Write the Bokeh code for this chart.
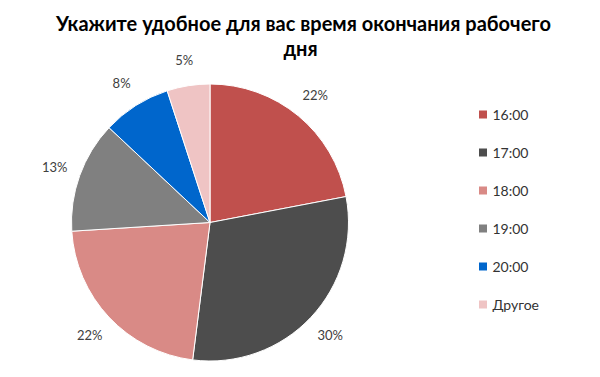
import math
from bokeh.plotting import figure
from bokeh.models import ColumnDataSource, Range1d
from bokeh.core.properties import value
from bokeh.embed import file_html
from bokeh.resources import INLINE

title_lines = ["Укажите удобное для вас время окончания рабочего", "дня"]
categories = ["16:00", "17:00", "18:00", "19:00", "20:00", "Другое"]
shares = [22, 30, 22, 13, 8, 5]
colors = ["#C0504D", "#4D4D4D", "#D98A86", "#808080", "#0066CC", "#EFC4C4"]

W, H = 584, 361
p = figure(width=W, height=H, output_backend="svg", toolbar_location=None,
           x_range=Range1d(0, W), y_range=Range1d(377 - H, 377),
           min_border=0)
p.axis.visible = False
p.grid.visible = False
p.outline_line_color = None
p.background_fill_color = "white"

def Y(img_y):
    return 377 - img_y

cx, cy, r = 209.5, Y(222), 138.5
total = float(sum(shares))
starts, ends, lx, ly, labels = [], [], [], [], []
cum = 0.0
for s in shares:
    a0 = math.pi / 2 - cum / total * 2 * math.pi
    cum += s
    a1 = math.pi / 2 - cum / total * 2 * math.pi
    starts.append(a0)
    ends.append(a1)
    mid = (a0 + a1) / 2
    lr = 165
    lx.append(cx + lr * math.cos(mid))
    ly.append(cy + lr * math.sin(mid))
    labels.append(f"{s}%")

src = ColumnDataSource(dict(start=starts, end=ends, color=colors, lx=lx, ly=ly, label=labels))
p.wedge(x=cx, y=cy, radius=r, start_angle="start", end_angle="end", direction="clock",
        fill_color="color", line_color="white", line_width=1, source=src)
p.text(x="lx", y="ly", text="label", source=src, text_align="center", text_baseline="middle",
       text_font=value("Lato"), text_font_size="13px", text_color="#404040")

# title
p.text(x=[303, 300], y=[Y(22), Y(47)], text=title_lines, text_align="center", text_baseline="middle",
       text_font=value("Lato"), text_font_style="bold", text_font_size="20px", text_color="#000000")

# legend
leg_y = [Y(114 + 38 * i) for i in range(len(categories))]
lsrc = ColumnDataSource(dict(y=leg_y, cat=categories, color=colors))
p.rect(x=482.5, y="y", width=8, height=8, fill_color="color", line_color=None, source=lsrc)
p.text(x=492, y="y", text="cat", source=lsrc, text_align="left", text_baseline="middle",
       text_font=value("Lato"), text_font_size="14px", text_color="#333333")

open("out.html", "w").write(file_html(p, INLINE))
